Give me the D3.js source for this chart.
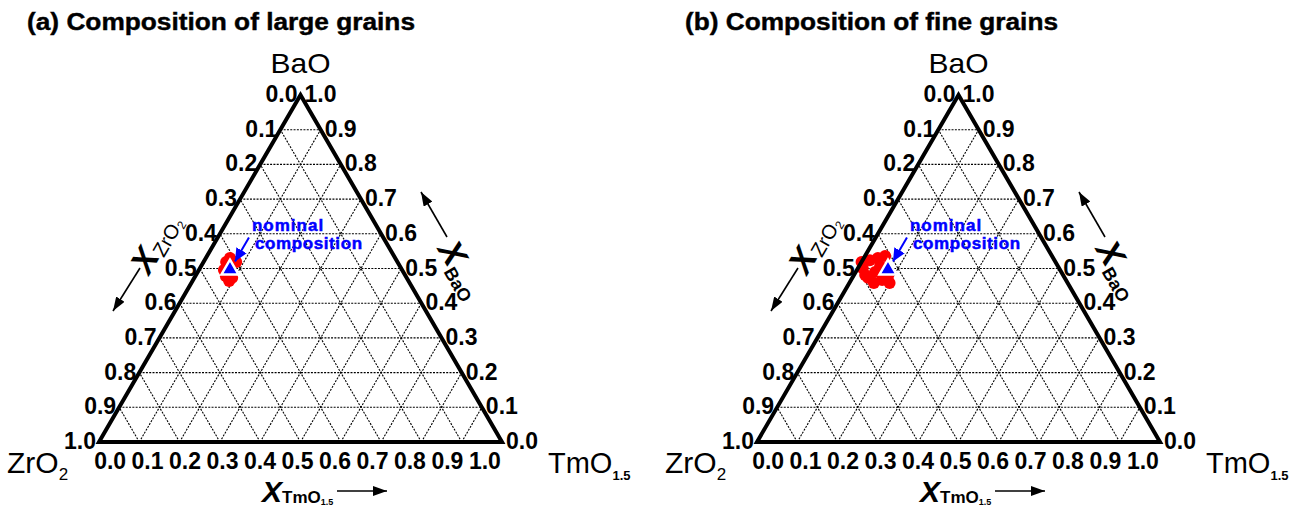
<!DOCTYPE html>
<html>
<head>
<meta charset="utf-8">
<script src="https://cdn.jsdelivr.net/npm/d3@7"></script>
<style>
body { margin: 0; background: #fff; }
text { font-family: "Liberation Sans", Arial, sans-serif; }
</style>
</head>
<body>
<svg id="chart" width="1307" height="508"></svg>
<script>
// chart values
var titles = ['(a) Composition of large grains', '(b) Composition of fine grains'];
var titleLengths = [388, 373];
var tickValues = [0, 0.1, 0.2, 0.3, 0.4, 0.5, 0.6, 0.7, 0.8, 0.9, 1.0];
var tickLabels = ['0.0', '0.1', '0.2', '0.3', '0.4', '0.5', '0.6', '0.7', '0.8', '0.9', '1.0'];
// compositions as [X_BaO, X_TmO1.5], X_ZrO2 = 1 - both
var nominal = [0.5, 0.075];
var largeGrains = [[0.519, 0.056], [0.478, 0.076], [0.473, 0.094], [0.519, 0.081],
    [0.530, 0.060], [0.496, 0.062], [0.464, 0.091]];
var fineGrains = [[0.501, 0.012], [0.524, 0.018], [0.530, 0.035], [0.490, 0.048],
    [0.473, 0.039], [0.467, 0.077], [0.478, 0.086], [0.536, 0.050], [0.458, 0.100],
    [0.519, 0.0], [0.481, 0.028], [0.507, 0.052], [0.458, 0.061]];

var panelLeft = [99, 757];
var W = 403, yTop = 95, yBase = 442;

var svg = d3.select('#chart');
var x = d3.scaleLinear().domain([0, 1]).range([0, W]);
var y = d3.scaleLinear().domain([0, 1]).range([yBase, yTop]);
var line = d3.line();

function pt(b, t) {
    return [x(t + b / 2), y(b)];
}

var defs = svg.append('defs');
function addHead(id, color, len, wid) {
    defs.append('marker').attr('id', id)
        .attr('markerUnits', 'userSpaceOnUse')
        .attr('markerWidth', len).attr('markerHeight', wid)
        .attr('refX', len).attr('refY', wid / 2)
        .attr('orient', 'auto')
        .append('path')
        .attr('d', 'M0,0L' + len + ',' + (wid / 2) + 'L0,' + wid + 'Z')
        .attr('fill', color);
}
addHead('headK', '#000', 14, 10);
addHead('headB', '#0000ff', 13, 12);

function arrow(g, p0, p1, color, head, w) {
    g.append('path').attr('d', line([p0, p1]))
        .attr('stroke', color).attr('stroke-width', w).attr('fill', 'none')
        .attr('marker-end', 'url(#' + head + ')');
}

function axisTitle(g, px, py, angle, size, parts) {
    var t = g.append('text')
        .attr('transform', 'translate(' + px + ',' + py + ') rotate(' + angle + ')');
    t.append('tspan').text('X')
        .attr('font-size', size).attr('font-weight', 'bold').attr('font-style', 'italic');
    parts.forEach(function (p) {
        t.append('tspan').text(p.s).attr('font-size', p.size)
            .attr('font-weight', p.bold ? 'bold' : 'normal').attr('dy', p.dy);
    });
}

function drawPanel(k, grains) {
    var g = svg.append('g').attr('transform', 'translate(' + panelLeft[k] + ',0)');

    // title
    svg.append('text').attr('x', panelLeft[k] - 72).attr('y', 30)
        .attr('font-size', 23).attr('font-weight', 'bold')
        .attr('stroke', '#000').attr('stroke-width', 0.4)
        .attr('textLength', titleLengths[k]).attr('lengthAdjust', 'spacingAndGlyphs')
        .text(titles[k]);

    // dotted grid
    tickValues.slice(1, -1).forEach(function (v) {
        [[pt(v, 0), pt(v, 1 - v)],
         [pt(0, v), pt(1 - v, v)],
         [pt(0, 1 - v), pt(1 - v, 0)]].forEach(function (seg) {
            g.append('path').attr('d', line(seg))
                .attr('stroke', '#000').attr('stroke-width', 1.1)
                .attr('stroke-dasharray', '2,1.3').attr('fill', 'none');
        });
    });

    // grains
    g.selectAll('circle.grain').data(grains).enter().append('circle')
        .attr('class', 'grain')
        .attr('cx', function (d) { return pt(d[0], d[1])[0]; })
        .attr('cy', function (d) { return pt(d[0], d[1])[1]; })
        .attr('r', 6)
        .attr('fill', '#ff0000');

    // outline
    g.append('path').attr('d', line([pt(0, 0), pt(0, 1), pt(1, 0)]) + 'Z')
        .attr('stroke', '#000').attr('stroke-width', 4)
        .attr('stroke-linejoin', 'miter').attr('fill', 'none');

    // nominal composition
    var n = pt(nominal[0], nominal[1]);
    g.append('path').attr('d', d3.symbol().type(d3.symbolTriangle).size(125)())
        .attr('transform', 'translate(' + n[0] + ',' + (n[1] + 1) + ')')
        .attr('fill', '#0000ff').attr('stroke', '#fff').attr('stroke-width', 2.5);
    arrow(g, [n[0] + 19, n[1] - 31], [n[0] + 5, n[1] - 7], '#0000ff', 'headB', 2);
    g.append('text').attr('x', n[0] + 22).attr('y', n[1] - 38)
        .attr('fill', '#0000ff').attr('stroke', '#0000ff').attr('stroke-width', 0.5)
        .attr('font-size', 17).attr('font-weight', 'bold')
        .attr('letter-spacing', 1).text('nominal');
    g.append('text').attr('x', n[0] + 25).attr('y', n[1] - 20)
        .attr('fill', '#0000ff').attr('stroke', '#0000ff').attr('stroke-width', 0.5)
        .attr('font-size', 17).attr('font-weight', 'bold')
        .attr('letter-spacing', 0.6).text('composition');

    // tick labels: left X_ZrO2, right X_BaO, bottom X_TmO1.5
    tickValues.forEach(function (v, i) {
        var pl = pt(1 - v, 0);
        g.append('text').attr('x', pl[0] - 3).attr('y', pl[1] + 7)
            .attr('text-anchor', 'end').attr('font-size', 23).attr('font-weight', 'bold')
            .text(tickLabels[i]);
        var pr = pt(v, 1 - v);
        g.append('text').attr('x', pr[0] + 4).attr('y', pr[1] + 7)
            .attr('font-size', 23).attr('font-weight', 'bold')
            .text(tickLabels[i]);
        g.append('text').attr('x', x(0.5 + (v - 0.5) * 0.93) - 3).attr('y', yBase + 27)
            .attr('text-anchor', 'middle').attr('font-size', 23).attr('font-weight', 'bold')
            .text(tickLabels[i]);
    });

    // corner labels
    g.append('text').attr('x', x(0.5)).attr('y', 73).attr('text-anchor', 'middle')
        .attr('font-size', 28).attr('textLength', 60).attr('lengthAdjust', 'spacingAndGlyphs')
        .text('BaO');
    var zr = g.append('text').attr('x', -92).attr('y', yBase + 31).attr('font-size', 30);
    zr.append('tspan').text('ZrO');
    zr.append('tspan').text('2').attr('font-size', 17).attr('dy', 7);
    var tm = g.append('text').attr('x', 449).attr('y', yBase + 31).attr('font-size', 29);
    tm.append('tspan').text('TmO');
    tm.append('tspan').text('1.5').attr('font-size', 13).attr('font-weight', 'bold').attr('dy', 7);

    // axis titles with arrows
    axisTitle(g, 50, 276, -60, 34, [
        {s: 'ZrO', size: 20, bold: false, dy: 4},
        {s: '2', size: 12, bold: false, dy: 3}]);
    arrow(g, [41, 268], [14, 311], '#000', 'headK', 1.6);

    axisTitle(g, 338, 249, 60, 34, [{s: 'BaO', size: 18, bold: true, dy: 6}]);
    arrow(g, [348, 237], [322, 192], '#000', 'headK', 1.6);

    axisTitle(g, 163, 502, 0, 30, [
        {s: 'TmO', size: 17, bold: true, dy: 1},
        {s: '1.5', size: 9, bold: true, dy: 2}]);
    arrow(g, [238, 491], [288, 491], '#000', 'headK', 1.6);
}

drawPanel(0, largeGrains);
drawPanel(1, fineGrains);
</script>
</body>
</html>
